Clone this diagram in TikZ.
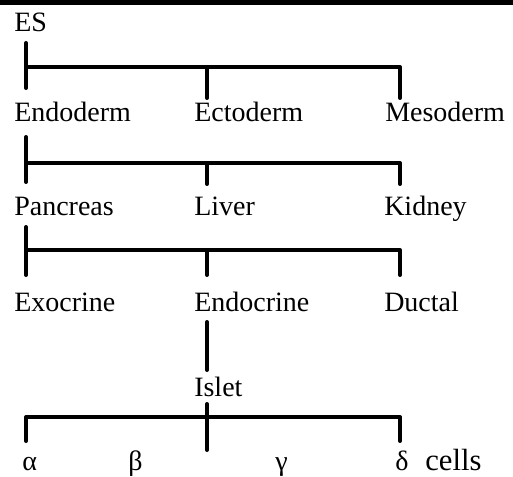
\documentclass[tikz,border=0pt]{standalone}
\usepackage{fontspec}
\setmainfont{Liberation Serif}
\newfontfamily\termfont{Liberation Serif}
\usepackage{tikz}

\begin{document}
\begin{tikzpicture}[x=0.75pt, y=-0.75pt,
  term/.style={anchor=base west, inner sep=0pt, font=\termfont\fontsize{21}{25}\selectfont},
  branch/.style={line width=3pt, line cap=round, line join=round}]
  \useasboundingbox (0,0) rectangle (513,477);
  \fill (0,0) rectangle (513,5.5);
  % lineage labels
  \node[term] (es)        at (14,32)   {ES};
  \node[term] (endo)      at (14,122)  {Endoderm};
  \node[term] (ecto)      at (194,122) {Ectoderm};
  \node[term] (meso)      at (385,122) {Mesoderm};
  \node[term] (panc)      at (14,215)  {Pancreas};
  \node[term] (liver)     at (194,215) {Liver};
  \node[term] (kidney)    at (384,215) {Kidney};
  \node[term] (exo)       at (14,311)  {Exocrine};
  \node[term] (endocrine) at (194,311) {Endocrine};
  \node[term] (ductal)    at (384,311) {Ductal};
  \node[term] (islet)     at (194,396) {Islet};
  \node[term] (alpha)     at (22,470)  {α};
  \node[term] (beta)      at (128,470) {β};
  \node[term] (gamma)     at (275,470) {γ};
  \node[term] (delta)     at (395,470) {δ};
  \node[term, font=\termfont\fontsize{23}{27}\selectfont] (cells) at (425,470) {cells};
  % ES -> germ layers
  \draw[branch] ([shift={(12,11)}]es.base west) -- ([shift={(12,-34)}]endo.base west);
  \draw[branch] ([shift={(12,-55)}]endo.base west) -- ([shift={(15,-55)}]meso.base west) -- ([shift={(15,-24)}]meso.base west);
  \draw[branch] ([shift={(13,-55)}]ecto.base west) -- ([shift={(13,-24)}]ecto.base west);
  % endoderm -> organs
  \draw[branch] ([shift={(12,15)}]endo.base west) -- ([shift={(12,-33)}]panc.base west);
  \draw[branch] ([shift={(12,-52)}]panc.base west) -- ([shift={(16,-52)}]kidney.base west) -- ([shift={(16,-31)}]kidney.base west);
  \draw[branch] ([shift={(13,-52)}]liver.base west) -- ([shift={(13,-31)}]liver.base west);
  % pancreas -> compartments
  \draw[branch] ([shift={(12,12)}]panc.base west) -- ([shift={(12,-36)}]exo.base west);
  \draw[branch] ([shift={(12,-61)}]exo.base west) -- ([shift={(16,-61)}]ductal.base west) -- ([shift={(16,-36)}]ductal.base west);
  \draw[branch] ([shift={(13,-61)}]endocrine.base west) -- ([shift={(13,-36)}]endocrine.base west);
  \draw[branch] ([shift={(13,11)}]endocrine.base west) -- ([shift={(13,-26)}]islet.base west);
  % islet -> cell types
  \draw[branch] ([shift={(4,-29)}]alpha.base west) -- ([shift={(4,-53)}]alpha.base west) -- ([shift={(5,-53)}]delta.base west) -- ([shift={(5,-29)}]delta.base west);
  \draw[branch] ([shift={(13,8)}]islet.base west) -- ([shift={(13,54)}]islet.base west);
\end{tikzpicture}
\end{document}
